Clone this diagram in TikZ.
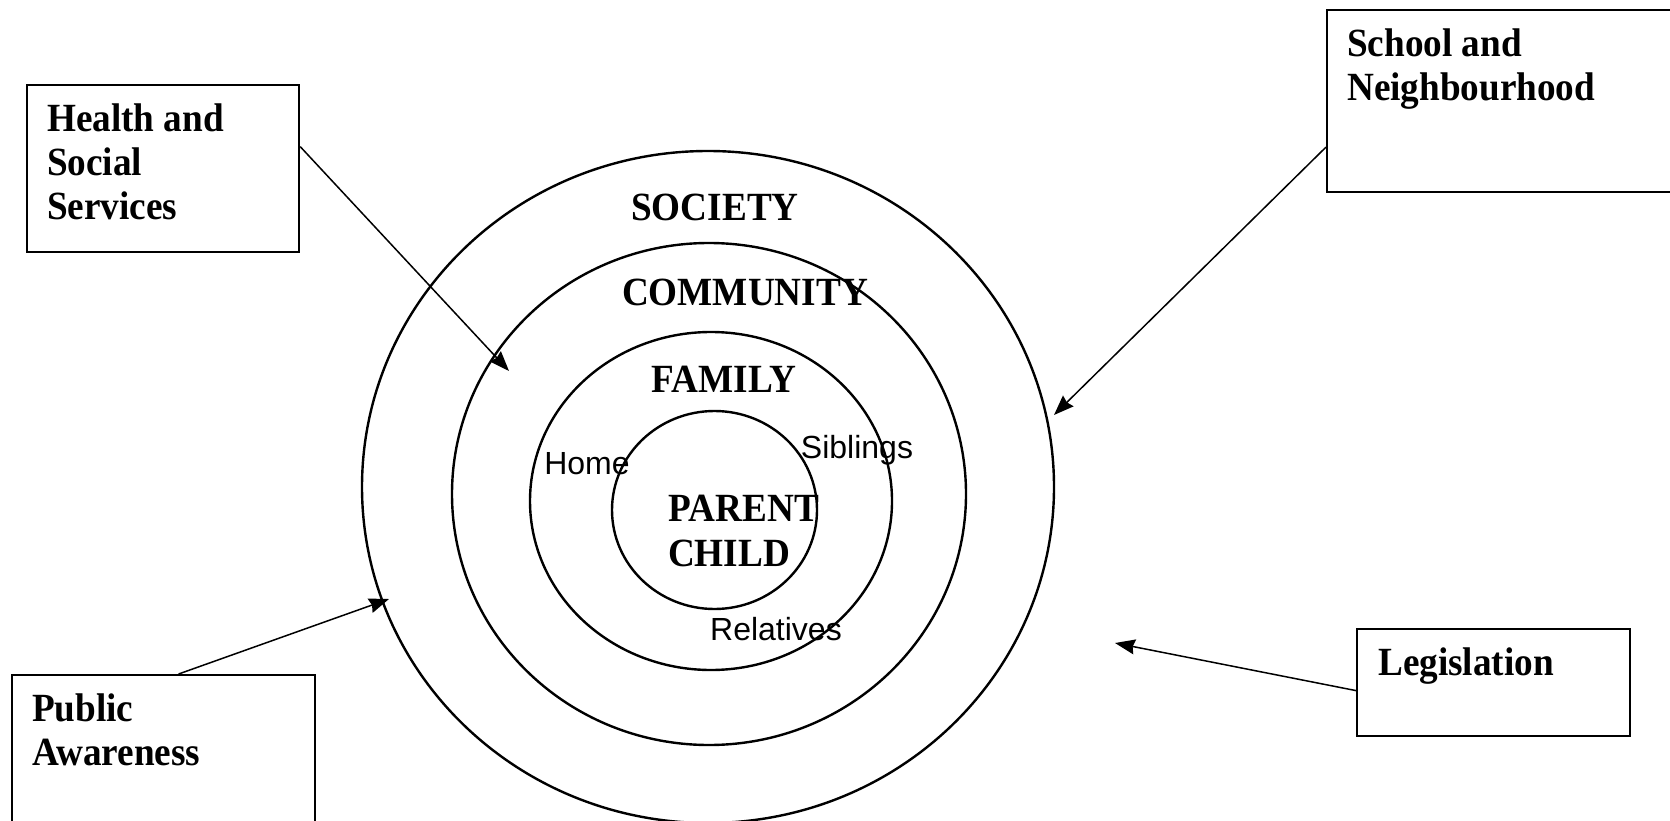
\documentclass[tikz,border=0pt]{standalone}
\usepackage{fontspec}
\setmainfont{Liberation Serif}
\newfontfamily\timesnarrow{Liberation Serif}[FakeStretch=0.93]
\newfontfamily\arialfont{Liberation Sans}
\usetikzlibrary{shapes.geometric, arrows.meta}
\tikzstyle{ring} = [ellipse, draw=black, line width=2.4pt, inner sep=0pt]
\tikzstyle{infobox} = [rectangle, draw=black, line width=2.2pt, anchor=north west, inner sep=0pt]
\tikzstyle{boxtext} = [anchor=north west, align=left, inner sep=0pt, font=\timesnarrow\bfseries\fontsize{40}{44}\selectfont]
\tikzstyle{ringlabel} = [anchor=base, inner sep=0pt, font=\timesnarrow\bfseries\fontsize{40}{44}\selectfont]
\tikzstyle{member} = [anchor=base, inner sep=0pt, font=\arialfont\fontsize{32}{38}\selectfont]
\tikzstyle{arrow} = [line width=1.5pt, -{Stealth[length=20pt, width=15pt, inset=2pt]}]
\begin{document}
\begin{tikzpicture}[x=1pt, y=-1pt]
    \useasboundingbox (0,0) rectangle (1670,821);

    % rings
    \node (society) [ring, minimum width=692pt, minimum height=672pt] at (708,487) {};
    \node (community) [ring, minimum width=514pt, minimum height=502pt] at (709,494) {};
    \node (family) [ring, minimum width=362pt, minimum height=338pt] at (711,501) {};
    \node (core) [ring, minimum width=205pt, minimum height=198pt] at (714.5,510) {};

    \node (societylbl) [ringlabel] at (715,221) {SOCIETY};
    \node (communitylbl) [ringlabel] at (745,305) {COMMUNITY};
    \node (familylbl) [ringlabel] at (724,392) {FAMILY};
    \node (parentlbl) [ringlabel] at (744,521) {PARENT};
    \node (childlbl) [ringlabel] at (729,566) {CHILD};
    \node (home) [member] at (587,474) {Home};
    \node (siblings) [member] at (857,458) {Siblings};
    \node (relatives) [member] at (776,640) {Relatives};

    % boxes
    \node (health) [infobox, minimum width=272pt, minimum height=167pt] at (26,84) {};
    \node (healthtxt) [boxtext] at ([xshift=21pt, yshift=-20pt]health.north west) {Health and\\Social\\Services};
    \node (school) [infobox, minimum width=348pt, minimum height=182pt] at (1326,9) {};
    \node (schooltxt) [boxtext] at ([xshift=21pt, yshift=-20pt]school.north west) {School and\\Neighbourhood};
    \node (public) [infobox, minimum width=303pt, minimum height=170pt] at (11,674) {};
    \node (publictxt) [boxtext] at ([xshift=21pt, yshift=-20pt]public.north west) {Public\\Awareness};
    \node (law) [infobox, minimum width=273pt, minimum height=107pt] at (1356,628) {};
    \node (lawtxt) [boxtext] at ([xshift=22pt, yshift=-20pt]law.north west) {Legislation};

    % arrows
    \coordinate (healthtip) at (509,371);
    \coordinate (schooltip) at (1054,415);
    \coordinate (publictip) at (389,599);
    \coordinate (lawtip) at (1115,643);
    \draw [arrow] ([yshift=22pt]health.east) -- (healthtip);
    \draw [arrow] ([yshift=-46pt]school.west) -- (schooltip);
    \draw [arrow] ([xshift=15pt]public.north) -- (publictip);
    \draw [arrow] ([yshift=-8pt]law.west) -- (lawtip);
\end{tikzpicture}
\end{document}
